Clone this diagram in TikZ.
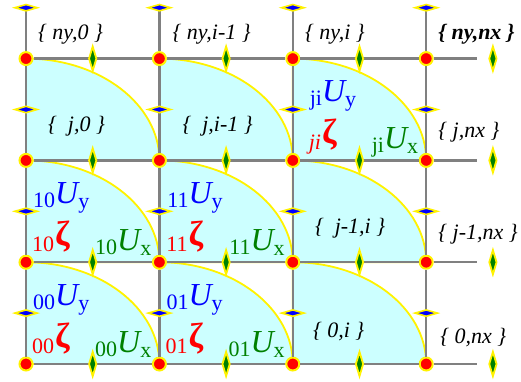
\documentclass[tikz,border=0pt]{standalone}
\usepackage{fontspec}
\setmainfont{Liberation Serif}
\usetikzlibrary{shapes.geometric}

\definecolor{cellcyan}{RGB}{204,255,255}
\definecolor{ugreen}{RGB}{0,128,0}

\newcommand{\uvel}[2]{\llap{\fontsize{22}{22}\selectfont\raisebox{-4pt}{#1}}{\fontsize{32}{32}\selectfont\itshape U}{\fontsize{22}{22}\selectfont\raisebox{-5pt}{#2}}}
\newcommand{\zet}[1]{\llap{\fontsize{22}{22}\selectfont\raisebox{-6pt}{#1}\kern1pt}{\fontsize{35}{35}\selectfont\bfseries ζ}}

\begin{document}
\begin{tikzpicture}[x=133.4pt, y=101.8pt, cell/.style={fill=cellcyan, draw=yellow, line width=1.8pt}, gridline/.style={draw=gray, line width=2.4pt}, pnode/.style={circle, fill=red, draw=yellow, line width=2pt, minimum size=13pt, inner sep=0pt}, unode/.style={diamond, fill=ugreen, draw=yellow, line width=1.8pt, minimum width=8pt, minimum height=25pt, inner sep=0pt}, vnode/.style={diamond, fill=blue, draw=yellow, line width=1.6pt, minimum width=23pt, minimum height=7pt, inner sep=0pt}, idx/.style={anchor=base west, inner sep=0pt, font=\fontsize{22}{22}\selectfont\itshape}, ulab/.style={anchor=base west, inner sep=0pt}]
    \useasboundingbox (-26pt,-17pt) rectangle (495pt,364pt);

    % cells
    \foreach \i in {0,1,2}
        \foreach \j in {0,1,2}
            \draw[cell] (\i,\j) -- ++(1,0) arc[start angle=0, end angle=90, x radius=1, y radius=1] -- cycle;

    % zeta points
    \foreach \j in {0,...,3}
        \foreach \i in {0,...,3}
            \node[pnode] (p\j\i) at (\i,\j) {};
    \foreach \j in {0,...,3} \coordinate (e\j) at (3.38,\j);
    \foreach \i in {0,...,3} \coordinate (t\i) at (\i,3.5);

    \foreach \j in {0,...,3}
        \draw[gridline] (p\j0) -- (p\j1) -- (p\j2) -- (p\j3) -- (e\j);
    \foreach \i in {0,...,3}
        \draw[gridline] (p0\i) -- (p1\i) -- (p2\i) -- (p3\i) -- (t\i);

    % velocity points
    \foreach \j in {0,...,3}
        \foreach \i in {0,...,3} {
            \node[unode] (u\j\i) at (\i+0.5,\j) {};
            \node[vnode] (v\j\i) at (\i,\j+0.5) {};
        }

    % labels
    \foreach \i/\j/\n/\m in {0/0/00/00, 1/0/01/01, 0/1/10/10, 1/1/11/11, 2/2/ji/\textit{ji}} {
        \node[ulab, text=blue, xshift=29pt, yshift=59pt] (uy\n) at (\i,\j) {\uvel{\n}{y}};
        \node[ulab, text=red, xshift=29pt, yshift=17pt] (z\n) at (\i,\j) {\zet{\m}};
        \node[ulab, text=ugreen, xshift=91pt, yshift=12pt] (ux\n) at (\i,\j) {\uvel{\n}{x}};
    }

    \node[idx, xshift=12pt, yshift=19pt] (nyzero) at (0,3) {\{ ny,0 \}};
    \node[idx, xshift=13pt, yshift=19pt] (nyim) at (1,3) {\{ ny,i-1 \}};
    \node[idx, xshift=12pt, yshift=19pt] (nyi) at (2,3) {\{ ny,i \}};
    \node[idx, xshift=12pt, yshift=19pt, font=\fontsize{22}{22}\selectfont\bfseries\itshape] (nynx) at (3,3) {\{ ny,nx \}};
    \node[idx, xshift=22pt, yshift=29pt] (jzero) at (0,2) {\{ \ j,0 \}};
    \node[idx, xshift=23pt, yshift=29pt] (jim) at (1,2) {\{ \ j,i-1 \}};
    \node[idx, xshift=12pt, yshift=23pt] (jnx) at (3,2) {\{ j,nx \}};
    \node[idx, xshift=22pt, yshift=29pt] (jmi) at (2,1) {\{ \ j-1,i \}};
    \node[idx, xshift=12pt, yshift=23pt] (jmnx) at (3,1) {\{ j-1,nx \}};
    \node[idx, xshift=20pt, yshift=27pt] (zeroi) at (2,0) {\{ 0,i \}};
    \node[idx, xshift=14pt, yshift=21pt] (zeronx) at (3,0) {\{ 0,nx \}};
\end{tikzpicture}
\end{document}
